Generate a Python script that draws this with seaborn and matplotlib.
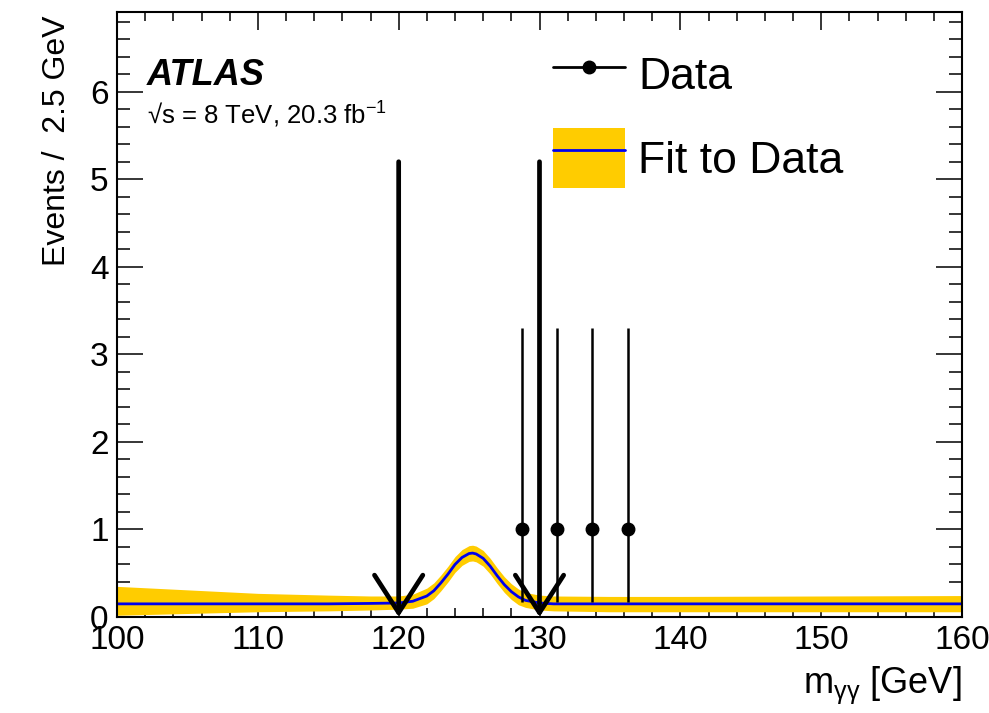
import numpy as np
import pandas as pd
import matplotlib
matplotlib.use("Agg")
import matplotlib.pyplot as plt
import seaborn as sns
from matplotlib.lines import Line2D
from matplotlib.patches import Patch
from matplotlib.legend_handler import HandlerTuple
from matplotlib.ticker import MultipleLocator

# ---- data ----
data_x = [128.75, 131.25, 133.75, 136.25]
data_y = [1, 1, 1, 1]
err_lo = [0.827, 0.827, 0.827, 0.827]
err_hi = [2.300, 2.300, 2.300, 2.300]

fit_x = [100, 105, 110, 115, 118, 120, 121, 122, 122.5, 123, 123.5, 124, 124.5, 125,
         125.25, 125.5, 126, 126.5, 127, 127.5, 128, 128.5, 129, 130, 131, 135, 140, 150, 160]
fit_y = [0.150, 0.150, 0.150, 0.150, 0.155, 0.160, 0.180, 0.240, 0.300, 0.390, 0.490, 0.600,
         0.680, 0.725, 0.730, 0.720, 0.670, 0.580, 0.470, 0.370, 0.290, 0.230, 0.190, 0.160,
         0.150, 0.150, 0.150, 0.150, 0.150]
band_lo = [0.02, 0.04, 0.06, 0.07, 0.08, 0.09, 0.10, 0.15, 0.21, 0.30, 0.40, 0.51, 0.59, 0.635,
           0.64, 0.63, 0.58, 0.49, 0.38, 0.28, 0.20, 0.14, 0.11, 0.08, 0.07, 0.06, 0.06, 0.06, 0.06]
band_hi = [0.35, 0.31, 0.27, 0.25, 0.24, 0.24, 0.26, 0.33, 0.39, 0.48, 0.58, 0.69, 0.77, 0.815,
           0.82, 0.81, 0.76, 0.67, 0.56, 0.46, 0.38, 0.32, 0.28, 0.25, 0.24, 0.235, 0.235, 0.24, 0.245]

arrow_x = [120, 130]
arrow_top = 5.2

x_ticks = [100, 110, 120, 130, 140, 150, 160]
y_ticks = [0, 1, 2, 3, 4, 5, 6]

# ---- style ----
sns.set_theme(style="ticks")
plt.rcParams["font.family"] = ["Liberation Sans", "DejaVu Sans"]
plt.rcParams["mathtext.fontset"] = "custom"
plt.rcParams["mathtext.rm"] = "Liberation Sans"
plt.rcParams["mathtext.it"] = "Liberation Sans:italic"
plt.rcParams["mathtext.bf"] = "Liberation Sans:bold"
for k in ["text.color", "axes.labelcolor", "xtick.color", "ytick.color",
          "xtick.labelcolor", "ytick.labelcolor", "axes.edgecolor"]:
    plt.rcParams[k] = "black"

fig = plt.figure(figsize=(9.89, 7.13), dpi=100)
ax = fig.add_axes([117 / 989, 1 - 617 / 713, 845 / 989, 605 / 713])

YELLOW = "#ffcc00"
BLUE = "#0000ee"

fit_df = pd.DataFrame({"x": fit_x, "y": fit_y, "lo": band_lo, "hi": band_hi})
ax.fill_between(fit_df["x"], fit_df["lo"], fit_df["hi"], color=YELLOW, lw=0, zorder=1)
sns.lineplot(data=fit_df, x="x", y="y", color=BLUE, lw=2.0, ax=ax, zorder=2)

ax.errorbar(data_x, data_y, yerr=[err_lo, err_hi], fmt="o", color="black",
            ms=9, elinewidth=1.8, capsize=0, zorder=4)

for xa in arrow_x:
    ax.annotate("", xy=(xa, 0), xytext=(xa, arrow_top),
                arrowprops=dict(arrowstyle="->,head_length=0.45,head_width=0.29",
                                lw=3.4, color="black", mutation_scale=60,
                                shrinkA=0, shrinkB=0),
                zorder=5, annotation_clip=False)

ax.set_xlim(100, 160)
ax.set_ylim(0, 6.91)
ax.set_xticks(x_ticks)
ax.set_yticks(y_ticks)
ax.xaxis.set_minor_locator(MultipleLocator(2))
ax.yaxis.set_minor_locator(MultipleLocator(0.2))
ax.tick_params(axis="x", which="major", direction="in", top=True, length=13, width=1.1,
               labelsize=24, pad=6, colors="black")
ax.tick_params(axis="x", which="minor", direction="in", top=True, length=6.5, width=1.1)
ax.tick_params(axis="y", which="major", direction="in", right=True, length=19, width=1.1,
               labelsize=24, pad=6, colors="black")
ax.tick_params(axis="y", which="minor", direction="in", right=True, length=9.5, width=1.1)
for s in ax.spines.values():
    s.set_linewidth(1.5)
    s.set_color("black")

ax.set_xlabel(r"m$_{\mathrm{γγ}}$ [GeV]", fontsize=26, loc="right")
ax.xaxis.set_label_coords(1.0, -0.078)
ax.set_ylabel("Events /  2.5 GeV", fontsize=23, loc="top")
ax.yaxis.set_label_coords(-0.053, 0.995)

ax.text(0.0355, 0.879, "ATLAS", transform=ax.transAxes, fontsize=26,
        fontweight="bold", fontstyle="italic", va="baseline")
ax.text(0.0355, 0.815, "√s = 8 TeV, 20.3 fb$^{-1}$", transform=ax.transAxes,
        fontsize=18.5, va="baseline")

h_data = Line2D([], [], color="black", marker="o", lw=2, ms=9)
h_fit = (Patch(facecolor=YELLOW, edgecolor="none"), Line2D([], [], color=BLUE, lw=2))
ax.legend([h_data, h_fit], ["Data", "Fit to Data"],
          handler_map={tuple: HandlerTuple(ndivide=1, pad=0)},
          loc="upper left", bbox_to_anchor=(553 / 989, (713 - 45) / 713),
          bbox_transform=fig.transFigure, frameon=False, fontsize=32,
          borderpad=0, borderaxespad=0, handlelength=1.62, handleheight=1.7,
          labelspacing=0.52, handletextpad=0.3)

fig.savefig("out.png", dpi=100)
